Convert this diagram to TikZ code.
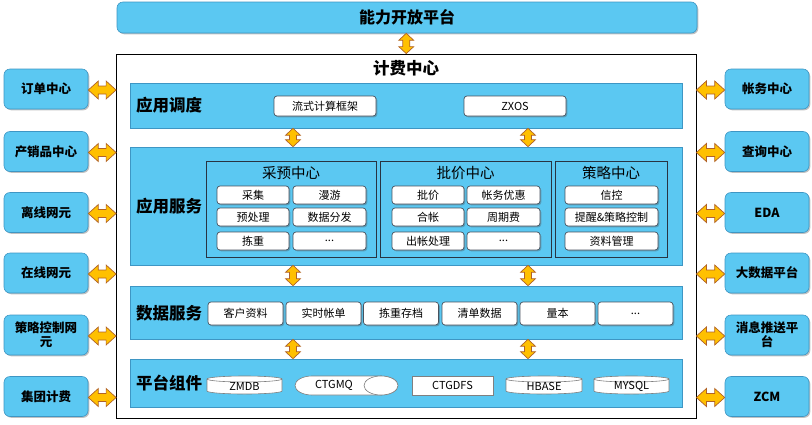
\documentclass[tikz,border=0pt]{standalone}
\usepackage{fontspec}
\setmainfont{Noto Sans CJK SC}
\usetikzlibrary{calc,shadows}
\definecolor{fillblue}{RGB}{91,200,242}
\definecolor{edgeblue}{RGB}{62,150,196}
\definecolor{panelline}{RGB}{40,52,66}
\definecolor{arrowfill}{RGB}{255,192,0}
\definecolor{arrowline}{RGB}{176,98,40}
\definecolor{cylgray}{RGB}{128,128,128}
\newcommand\drumshape[4]{%
  \pgfmathsetmacro\rxx{(#3-#1)/2}%
  \draw[cylline] (#1,#2+3) -- (#1,#4-3) arc[start angle=180,end angle=360,x radius=\rxx pt,y radius=3pt] -- (#3,#2+3) arc[start angle=0,end angle=180,x radius=\rxx pt,y radius=3pt] -- cycle;
  \draw[cylline] (#1,#2+3) arc[start angle=180,end angle=360,x radius=\rxx pt,y radius=3pt];
}
\newcommand\hdrumshape[4]{%
  \pgfmathsetmacro\ryy{(#4-#2)/2}%
  \draw[cylline] (#3-17,#2) -- (#1+17,#2) arc[start angle=90,end angle=270,x radius=17pt,y radius=\ryy pt] -- (#3-17,#4) arc[start angle=-90,end angle=90,x radius=17pt,y radius=\ryy pt] -- cycle;
  \draw[cylline] (#3-17,{(#2+#4)/2}) ellipse[x radius=17pt,y radius=\ryy pt];
}
\begin{document}
\begin{tikzpicture}[x=1pt,y=-1pt,
  shad/.style={drop shadow={shadow xshift=1.3pt,shadow yshift=-1.3pt,opacity=0.35,fill=black!70}},
  layer/.style={draw=edgeblue,line width=0.6pt,fill=fillblue,inner sep=0,shad},
  sidebox/.style={layer,rounded corners=6pt,minimum width=84pt,minimum height=40pt,align=center,font=\fontsize{12.5}{14}\selectfont\bfseries},
  panel/.style={draw=panelline,line width=1pt,fill=fillblue,inner sep=0,minimum height=96pt,shad},
  item/.style={draw=panelline!85,fill=white,rounded corners=3pt,line width=0.7pt,minimum height=18pt,inner sep=0,font=\fontsize{11}{12}\selectfont,shad},
  ditem/.style={item,minimum width=75pt,minimum height=23pt},
  layerlabel/.style={anchor=west,inner sep=0,font=\fontsize{16.5}{18}\selectfont\bfseries},
  ptitle/.style={inner sep=0,font=\fontsize{14.5}{16}\selectfont},
  cylline/.style={draw=cylgray,fill=white,line width=0.6pt},
  ctext/.style={inner sep=0,font=\fontsize{11}{12}\selectfont},
  blockarrow/.style={draw=arrowline,fill=arrowfill,line width=0.7pt,line join=miter},
  hdbl/.style={blockarrow,to path={let \p1=(\tikztostart),\p2=(\tikztotarget) in
     (\x1,\y1) -- (\x1+10pt,\y1+9pt) -- (\x1+10pt,\y1+4pt) -- (\x2-10pt,\y1+4pt) -- (\x2-10pt,\y1+9pt) -- (\x2,\y1)
     -- (\x2-10pt,\y1-9pt) -- (\x2-10pt,\y1-4pt) -- (\x1+10pt,\y1-4pt) -- (\x1+10pt,\y1-9pt) -- cycle}},
  vdbl/.style={blockarrow,to path={let \p1=(\tikztostart),\p2=(\tikztotarget) in
     (\x1,\y1) -- (\x1+7.5pt,\y1-7pt) -- (\x1+3.5pt,\y1-7pt) -- (\x1+3.5pt,\y2+7pt) -- (\x1+7.5pt,\y2+7pt) -- (\x1,\y2)
     -- (\x1-7.5pt,\y2+7pt) -- (\x1-3.5pt,\y2+7pt) -- (\x1-3.5pt,\y1-7pt) -- (\x1-7.5pt,\y1-7pt) -- cycle}}
]
\useasboundingbox (0,0) rectangle (812,424);

% top platform and main frame
\node[layer,rounded corners=6pt,minimum width=580pt,minimum height=31pt,font=\fontsize{16}{18}\selectfont\bfseries] (top) at (407,17.5) {能力开放平台};
\node[draw=black,line width=0.8pt,fill=white,minimum width=579.5pt,minimum height=364pt,inner sep=0,shad] (main) at (406.25,236) {};
\node[inner sep=0,font=\fontsize{16.5}{18}\selectfont\bfseries] (title) at (406,68) {计费中心};

% layers
\node[layer,minimum width=552pt,minimum height=45pt] (L1) at (406,105.5) {};
\node[layer,minimum width=552pt,minimum height=118pt] (L2) at (406,206) {};
\node[layer,minimum width=552pt,minimum height=53pt] (L3) at (406,312.5) {};
\node[layer,minimum width=552pt,minimum height=48pt] (L4) at (406,383) {};
\node[layerlabel] (L1t) at (136,105.5) {应用调度};
\node[layerlabel] (L2t) at (136,206) {应用服务};
\node[layerlabel] (L3t) at (136,313) {数据服务};
\node[layerlabel] (L4t) at (136,383) {平台组件};

% layer 1 items
\node[item,minimum width=102pt,minimum height=20pt] (flow) at (325,106) {流式计算框架};
\node[item,minimum width=102pt,minimum height=20pt] (zxos) at (515,106) {ZXOS};

% layer 2 panels
\node[panel,minimum width=170pt] (P1) at (291,209) {};
\node[panel,minimum width=171pt] (P2) at (465.5,209) {};
\node[panel,minimum width=112pt] (P3) at (611,209) {};
\node[ptitle] (P1t) at (291,173) {采预中心};
\node[ptitle] (P2t) at (465.5,173) {批价中心};
\node[ptitle] (P3t) at (611,173) {策略中心};

\node[item,minimum width=72pt] (a11) at (253,195) {采集};
\node[item,minimum width=73pt] (a12) at (329.5,195) {漫游};
\node[item,minimum width=72pt] (a21) at (253,217) {预处理};
\node[item,minimum width=73pt] (a22) at (329.5,217) {数据分发};
\node[item,minimum width=72pt] (a31) at (253,241) {拣重};
\node[item,minimum width=73pt] (a32) at (329.5,241) {...};

\node[item,minimum width=72pt] (b11) at (428,195) {批价};
\node[item,minimum width=73pt] (b12) at (503.5,195) {帐务优惠};
\node[item,minimum width=72pt] (b21) at (428,217) {合帐};
\node[item,minimum width=73pt] (b22) at (503.5,217) {周期费};
\node[item,minimum width=72pt] (b31) at (428,241) {出帐处理};
\node[item,minimum width=73pt] (b32) at (503.5,241) {...};

\node[item,minimum width=93pt] (c1) at (611.5,195) {信控};
\node[item,minimum width=93pt] (c2) at (611.5,217) {提醒\&策略控制};
\node[item,minimum width=93pt] (c3) at (611.5,241) {资料管理};

% layer 3 items
\node[ditem] (d1) at (245.5,313.5) {客户资料};
\node[ditem] (d2) at (323.5,313.5) {实时帐单};
\node[ditem] (d3) at (401,313.5) {拣重存档};
\node[ditem] (d4) at (479.5,313.5) {清单数据};
\node[ditem] (d5) at (557.5,313.5) {量本};
\node[ditem] (d6) at (635.5,313.5) {...};

% layer 4 components
\drumshape{207}{376}{282}{394}
\node[ctext] (zmdb) at (244.5,386) {ZMDB};
\hdrumshape{295}{376}{398}{395}
\node[ctext] (ctgmq) at (334,385.5) {CTGMQ};
\node[draw=cylgray,fill=white,line width=0.6pt,minimum width=81pt,minimum height=19pt,inner sep=0,font=\fontsize{11}{12}\selectfont] (ctgdfs) at (452.5,385.5) {CTGDFS};
\drumshape{506}{376}{582}{394}
\node[ctext] (hbase) at (544,386) {HBASE};
\drumshape{594}{376}{669}{394}
\node[ctext] (mysql) at (631.5,386) {MYSQL};

% side boxes
\node[sidebox] (l1) at (46,89) {订单中心};
\node[sidebox] (l2) at (46,151.5) {产销品中心};
\node[sidebox] (l3) at (46,212.5) {离线网元};
\node[sidebox] (l4) at (46,273) {在线网元};
\node[sidebox] (l5) at (46,335) {策略控制网\\元};
\node[sidebox] (l6) at (46,396.5) {集团计费};
\node[sidebox] (r1) at (767,89) {帐务中心};
\node[sidebox] (r2) at (767,151.5) {查询中心};
\node[sidebox] (r3) at (767,212.5) {EDA};
\node[sidebox] (r4) at (767,273) {大数据平台};
\node[sidebox] (r5) at (767,335) {消息推送平\\台};
\node[sidebox] (r6) at (767,396.5) {ZCM};

% arrows
\foreach \n in {l1,l2,l3,l4,l5,l6}{
  \draw[hdbl] ([yshift=-1pt]\n.east) to ([yshift=-1pt]main.west |- \n.east);
}
\foreach \n in {r1,r2,r3,r4,r5,r6}{
  \draw[hdbl] ([yshift=-1pt]main.east |- \n.west) to ([yshift=-1pt]\n.west);
}
\coordinate (ax) at (293,0);
\coordinate (bx) at (528,0);
\draw[vdbl] (top.south -| main.north) to (main.north);
\draw[vdbl] (L1.south -| ax) to (L2.north -| ax);
\draw[vdbl] (L1.south -| bx) to (L2.north -| bx);
\draw[vdbl] (L2.south -| ax) to (L3.north -| ax);
\draw[vdbl] (L2.south -| bx) to (L3.north -| bx);
\draw[vdbl] (L3.south -| ax) to (L4.north -| ax);
\draw[vdbl] (L3.south -| bx) to (L4.north -| bx);
\end{tikzpicture}
\end{document}
